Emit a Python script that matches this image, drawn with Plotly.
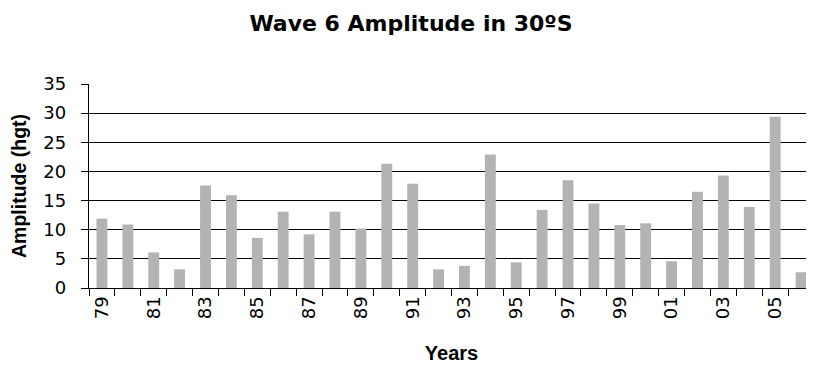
import plotly.graph_objects as go

# Years (two-digit) and wave 6 amplitude
years = ["79", "80", "81", "82", "83", "84", "85", "86", "87", "88", "89", "90",
         "91", "92", "93", "94", "95", "96", "97", "98", "99", "00", "01", "02",
         "03", "04", "05", "06"]
amplitude = [11.9, 10.9, 6.1, 3.2, 17.6, 15.9, 8.6, 13.1, 9.2, 13.1, 10.2, 21.3,
             17.9, 3.2, 3.8, 22.9, 4.4, 13.4, 18.5, 14.5, 10.8, 11.1, 4.6, 16.5,
             19.3, 13.9, 29.4, 2.7]
# only every other year is labelled
tick_text = [y if i % 2 == 0 else "" for i, y in enumerate(years)]

WIDE = "DejaVu Sans, sans-serif"
ARIAL = "Arial, Liberation Sans, sans-serif"

# the page body has an 8px margin, so the figure is sized 8px smaller
fig = go.Figure()
fig.add_trace(go.Bar(
    x=years,
    y=amplitude,
    marker=dict(color="#b3b3b3", line=dict(width=0)),
    showlegend=False,
))

fig.update_layout(
    width=806, height=359,
    plot_bgcolor="white", paper_bgcolor="white",
    margin=dict(l=81, r=0, t=76, b=79),
    bargap=0.58,
    font=dict(family=WIDE, size=17, color="black"),
    title=dict(text="<b>Wave 6 Amplitude in 30ºS</b>", x=0.5, xanchor="center",
               y=0.958, yanchor="middle",
               font=dict(family=WIDE, size=22, color="black")),
    xaxis=dict(
        type="category", automargin=False,
        tickmode="array", tickvals=years, ticktext=tick_text,
        tickson="boundaries", ticks="outside", ticklen=7, tickwidth=1.3,
        tickcolor="black", tickangle=-90,
        tickfont=dict(family=WIDE, size=18),
        showline=True, linecolor="black", linewidth=1.3,
        showgrid=False,
        title=dict(text="<b>Years</b>", font=dict(family=ARIAL, size=20),
                   standoff=27),
    ),
    yaxis=dict(
        range=[0, 35], dtick=5, automargin=False,
        ticks="outside", ticklen=7, tickwidth=1.3, tickcolor="black",
        ticklabelstandoff=11,
        tickfont=dict(family=WIDE, size=18),
        showline=True, linecolor="black", linewidth=1.3,
        showgrid=True, gridcolor="black", gridwidth=1.3,
        zeroline=False,
        title=dict(text="<b>Amplitude (hgt)</b>", font=dict(family=ARIAL, size=19.5),
                   standoff=14),
    ),
)

fig.write_html("out.html")
